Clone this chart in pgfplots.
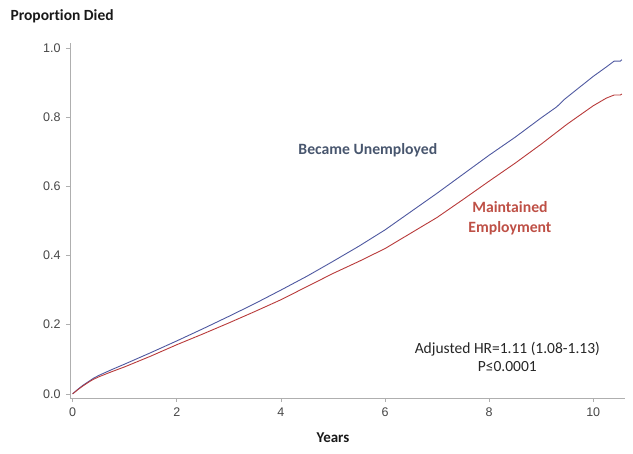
\documentclass[border=0pt]{standalone}
\usepackage{fontspec}
\setmainfont{Carlito}[Ligatures=NoCommon]
\newfontfamily\tickfont{Liberation Sans}
\usepackage{pgfplots}
\pgfplotsset{compat=1.18}

\definecolor{unemp}{RGB}{78,88,160}
\definecolor{emp}{RGB}{184,58,58}
\definecolor{unemptext}{RGB}{72,86,110}
\definecolor{emptext}{RGB}{190,80,70}
\definecolor{axisgray}{RGB}{175,175,175}
\definecolor{labelgray}{RGB}{70,70,70}

\begin{document}
\begin{tikzpicture}
\path[use as bounding box] (-70pt,-56pt) rectangle (563pt,398pt);
\begin{axis}[
    at={(0pt,0pt)}, anchor=south west,
    scale only axis,
    width=555pt, height=355pt,
    xmin=-0.05, xmax=10.61,
    ymin=-0.012, ymax=1.0145,
    xtick={0,2,4,6,8,10},
    ytick={0,0.2,0.4,0.6,0.8,1.0},
    yticklabel style={/pgf/number format/fixed, /pgf/number format/fixed zerofill, /pgf/number format/precision=1},
    /pgf/number format/assume math mode=true,
    tick label style={font=\tickfont\fontsize{12.5}{14}\selectfont, text=labelgray},
    xticklabel style={yshift=-2pt},
    yticklabel style={xshift=-2pt},
    axis x line*=bottom, axis y line*=left,
    axis line style={axisgray},
    tick style={axisgray, line width=0.6pt},
    tick align=outside,
    major tick length=4pt,
    clip=false,
]
\addplot[unemp, line width=0.9pt] coordinates {
 (0,0) (0.1,0.013) (0.2,0.025) (0.3,0.035) (0.4,0.045) (0.5,0.053)
 (0.75,0.070) (1.0,0.086) (1.5,0.119)
 (2.0,0.153) (2.5,0.188) (3.0,0.224) (3.5,0.261) (4.0,0.300) (4.5,0.340)
 (5.0,0.383) (5.5,0.427) (6.0,0.474) (6.5,0.527) (7.0,0.580) (7.5,0.635)
 (8.0,0.690) (8.5,0.742) (9.0,0.798) (9.3,0.830) (9.45,0.852) (10.0,0.918)
 (10.25,0.945) (10.4,0.962) (10.52,0.962) (10.55,0.966)
};
\addplot[emp, line width=0.9pt] coordinates {
 (0,0) (0.1,0.012) (0.2,0.023) (0.3,0.033) (0.4,0.042) (0.5,0.049)
 (0.75,0.064) (1.0,0.078) (1.5,0.109)
 (2.0,0.142) (2.5,0.173) (3.0,0.205) (3.5,0.238) (4.0,0.272) (4.5,0.310)
 (5.0,0.348) (5.5,0.383) (6.0,0.420) (6.5,0.465) (7.0,0.510) (7.5,0.562)
 (8.0,0.615) (8.5,0.667) (9.0,0.722) (9.5,0.780) (10.0,0.833) (10.25,0.855)
 (10.4,0.864) (10.52,0.864) (10.55,0.867)
};
\node[font=\bfseries\fontsize{15.7}{18}\selectfont, text=unemptext] at (axis cs:5.67,0.705) {Became Unemployed};
\node[font=\bfseries\fontsize{15.7}{20}\selectfont, text=emptext, align=center] at (axis cs:8.4,0.508) {Maintained\\Employment};
\node[font=\fontsize{15.5}{18}\selectfont, text=black!85, align=center] at (axis cs:8.35,0.107) {Adjusted HR=1.11 (1.08-1.13)\\P≤0.0001};
\end{axis}
\node[anchor=west, font=\bfseries\fontsize{15.5}{18}\selectfont, text=black!90] at (-63pt,382pt) {Proportion Died};
\node[font=\bfseries\fontsize{15}{18}\selectfont, text=black!90] at (263pt,-40pt) {Years};
\end{tikzpicture}
\end{document}
